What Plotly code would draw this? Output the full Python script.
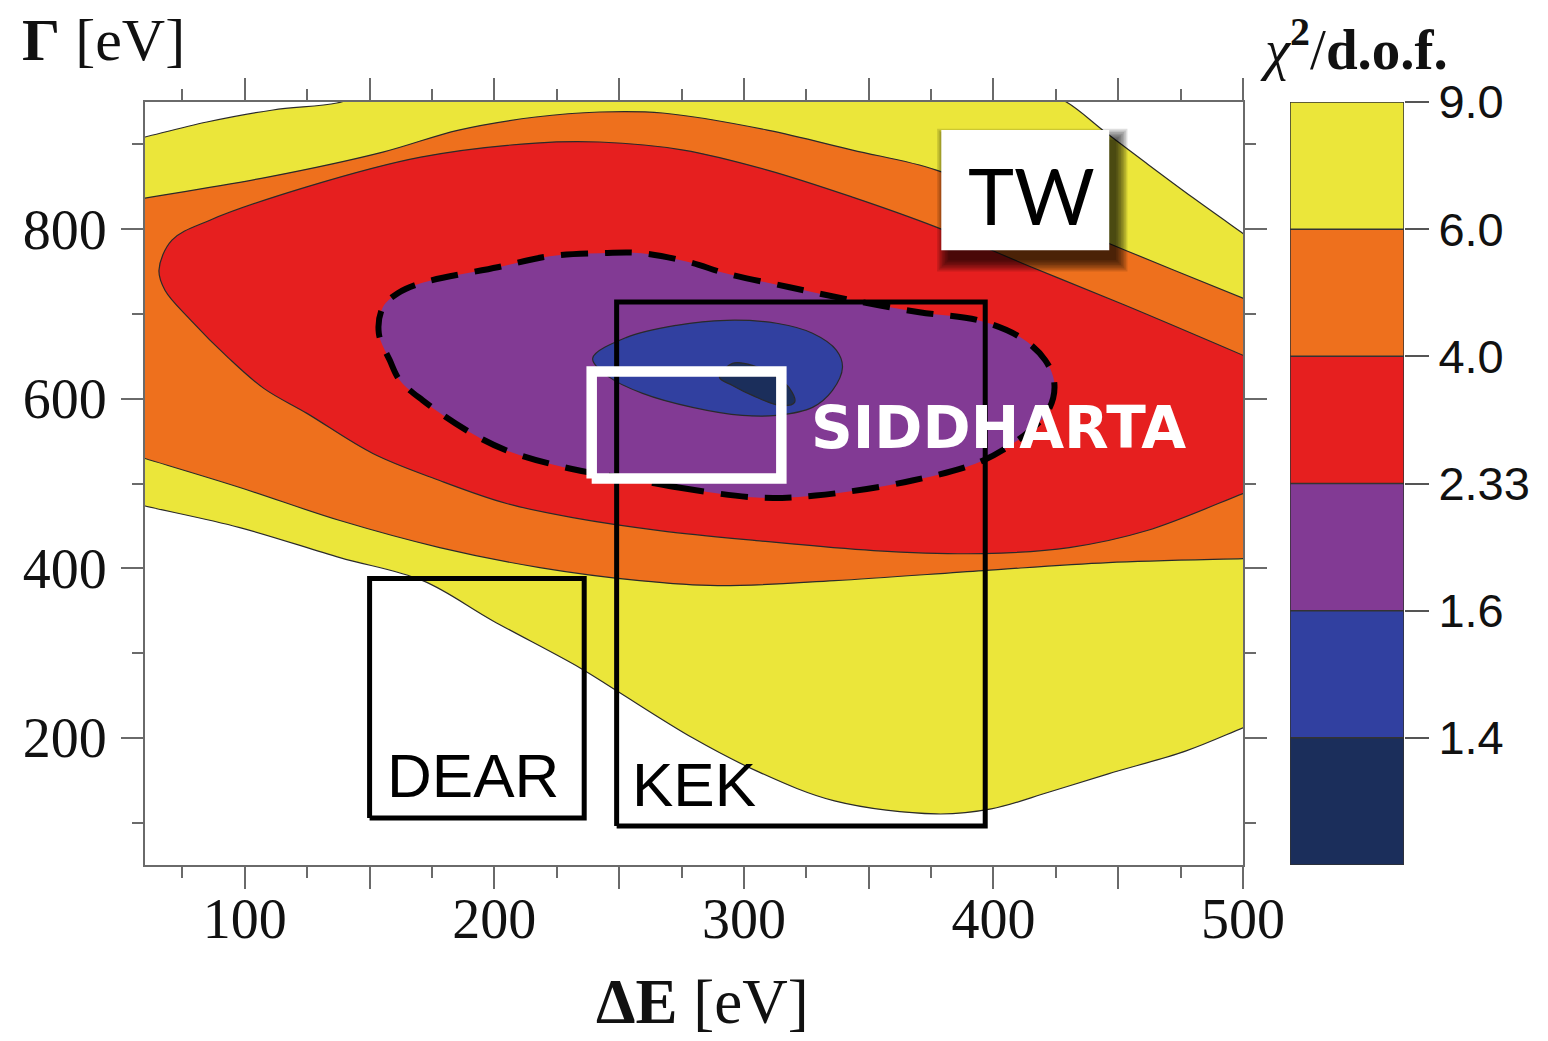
import plotly.graph_objects as go

# ---------------------------------------------------------------- data ----
# chi^2/d.o.f. band edges (upper edge of each band) and band colours, low -> high
chi2_levels = [1.4, 1.6, 2.33, 4.0, 6.0, 9.0]
band_colors = ["#1b2e5b", "#3140a0", "#823a94", "#e61f1f", "#ee701d", "#ebe63a"]

# Region outlines in (Delta E, Gamma) [eV]; vertices beyond the frame close a region off-axis
chi2_lt9_de = [50, 60, 84.8, 111.3, 136.9, 150, 290, 420, 429.2, 445, 461.2, 480, 500, 512, 516, 512,
               500, 477.2, 446.0, 422.4, 399.1, 377.1, 336.3, 305.0, 279.4, 249.0, 234.2, 199.3, 171.3,
               138.1, 98.0, 60, 50, 44, 44]
chi2_lt9_gamma = [901.6, 908.7, 926.4, 940.6, 948.8, 960, 968, 960, 950, 914, 878, 837, 795, 770, 500, 226,
                  211.8, 184.6, 157.5, 136.1, 116.1, 110.2, 125.6, 161.0, 200.0, 255.5, 282.7, 338.2,
                  385.4, 412.6, 448.0, 473.5, 480.8, 600, 880]

chi2_lt6_de = [50, 60, 109.2, 155.3, 185.7, 216.6, 242.2, 267.4, 309.4, 343.5, 377.1, 414.4, 452.8, 500,
               512, 516, 512, 500, 446.0, 395.9, 336.3, 289.4, 258.2, 218.2, 178.1, 138.1, 98.0, 60, 50, 44]
chi2_lt6_gamma = [831.6, 836.6, 861.4, 890.9, 916.9, 932.3, 938.2, 937.0, 916.9, 893.3, 869.7, 822.4, 775.2,
                  718.5, 704, 560, 412.4, 411.4, 406.7, 397.3, 385.4, 379.5, 385.4, 400.8, 424.4, 456.3,
                  495.3, 529.5, 538.5, 700]

chi2_lt4_de = [500, 452.8, 414.4, 377.1, 343.5, 309.4, 275.8, 242.2, 216.6, 170.5, 124.5, 86.0, 70.8, 65.6,
               68.0, 78.4, 93.2, 107.6, 124.9, 151.3, 178.1, 204.9, 231.4, 266.2, 305.0, 351.9, 395.9,
               430.4, 461.6, 500, 512, 516, 512]
chi2_lt4_gamma = [651.2, 710.2, 756.3, 802.4, 837.8, 869.7, 893.3, 902.8, 901.6, 885.0, 849.6, 810.6, 787.0,
                  751.6, 728.0, 692.5, 648.8, 612.2, 582.7, 535.4, 503.5, 476.4, 459.8, 444.5, 432.7,
                  420.9, 417.3, 424.4, 444.5, 488.2, 502, 570, 636]

chi2_lt233_de = [305.0, 273.8, 258.2, 230.2, 204.9, 188.9, 171.3, 162.1, 158.1, 153.7, 155.3, 161.3, 170.5,
                 201.3, 222.2, 242.2, 259.0, 278.2, 292.6, 318.3, 343.5, 370.3, 393.9, 410.8, 420.8,
                 424.4, 422.4, 414.7, 395.9, 367.5, 328.7, 305.0]
chi2_lt233_gamma = [483.5, 495.3, 503.5, 517.7, 539.0, 562.6, 598.0, 621.7, 645.3, 677.2, 707.9, 724.4,
                    736.2, 755.1, 768.1, 771.7, 771.7, 761.0, 748.0, 731.5, 716.1, 702.0, 692.5, 672.4,
                    645.3, 618.1, 588.6, 562.6, 527.2, 503.5, 485.8, 483.5]

chi2_lt16_de = [239.4, 253.0, 273.0, 293.0, 313.1, 327.5, 337.1, 339.5, 335.5, 327.5, 313.1, 299.4, 279.4,
                259.4, 246.2, 239.4]
chi2_lt16_gamma = [647.6, 672.4, 686.6, 692.5, 689.0, 677.2, 657.1, 637.0, 609.8, 589.8, 580.3, 580.3,
                   589.8, 606.3, 625.2, 647.6]

chi2_lt14_de = [290.2, 295.4, 303.4, 313.1, 318.3, 320.3, 314.3, 303.4, 295.4, 290.2]
chi2_lt14_gamma = [625.2, 641.7, 639.4, 625.2, 612.2, 595.7, 592.1, 603.9, 615.7, 625.2]

# Experimental ranges (Delta E, Gamma) [eV]
dear_de, dear_gamma = [150, 236], [105.5, 388]
kek_de, kek_gamma = [249, 396.7], [96, 714]
siddharta_de, siddharta_gamma = [239, 315], [506, 632]
tw_de, tw_gamma = [379.1, 446.4], [775.2, 916.9]

# ------------------------------------------------------------- layout ----
W, H = 1548, 1041
ML, MR, MT, MB = 145, 10, 102, 176
PW, PH = W - ML - MR, H - MT - MB


def paper_x(px):
    return (px - ML) / PW


def paper_y(py):
    return (H - MB - py) / PH


X_RANGE, Y_RANGE = [60, 500], [50, 950]
main_dom = [0, paper_x(1243)]
bar_dom = [paper_x(1290), paper_x(1404)]
ux = (X_RANGE[1] - X_RANGE[0]) / (1243 - ML)   # eV per pixel, horizontal
uy = (Y_RANGE[1] - Y_RANGE[0]) / PH            # eV per pixel, vertical

EDGE = "#2a2a2a"
FRAME = "#6a6a6a"
SERIF = "Liberation Serif, Times New Roman, serif"
SANS = "Liberation Sans, Arial, sans-serif"

fig = go.Figure()

regions = [
    (chi2_lt9_de, chi2_lt9_gamma, band_colors[5], dict(color=EDGE, width=1.2)),
    (chi2_lt6_de, chi2_lt6_gamma, band_colors[4], dict(color=EDGE, width=1.2)),
    (chi2_lt4_de, chi2_lt4_gamma, band_colors[3], dict(color=EDGE, width=1.2)),
    (chi2_lt233_de, chi2_lt233_gamma, band_colors[2], dict(color="#000000", width=6, dash="27px,17px")),
    (chi2_lt16_de, chi2_lt16_gamma, band_colors[1], dict(color=EDGE, width=1.2)),
    (chi2_lt14_de, chi2_lt14_gamma, band_colors[0], dict(color=EDGE, width=1.2)),
]
for de, gam, col, ln in regions:
    fig.add_trace(go.Scatter(
        x=de, y=gam, mode="lines", fill="toself", fillcolor=col,
        line=dict(shape="spline", smoothing=1.0, simplify=False, **ln),
        hoverinfo="skip", showlegend=False, xaxis="x", yaxis="y"))


def box(de, gam, color, width):
    return go.Scatter(
        x=[de[0], de[1], de[1], de[0], de[0]],
        y=[gam[0], gam[0], gam[1], gam[1], gam[0]],
        mode="lines", line=dict(color=color, width=width),
        hoverinfo="skip", showlegend=False, xaxis="x", yaxis="y")


fig.add_trace(box(dear_de, dear_gamma, "#000000", 5))
fig.add_trace(box(kek_de, kek_gamma, "#000000", 5))
fig.add_trace(box(siddharta_de, siddharta_gamma, "#ffffff", 10.5))

# colour key built from the same band list
n = len(band_colors)
cscale = []
for i, c in enumerate(band_colors):
    cscale += [[i / n, c], [(i + 1) / n, c]]
fig.add_trace(go.Heatmap(
    z=[[i] for i in range(n)], x=[0], y=list(range(n)),
    zmin=-0.5, zmax=n - 0.5, colorscale=cscale, showscale=False,
    hoverinfo="skip", xaxis="x2", yaxis="y2"))

shapes = []
# key outline and band separators
shapes.append(dict(type="rect", xref="x2", yref="y2", x0=-0.5, x1=0.5, y0=-0.5, y1=n - 0.5,
                   line=dict(color="#333333", width=1.5), layer="above"))
for i in range(n - 1):
    shapes.append(dict(type="line", xref="x2", yref="y2", x0=-0.5, x1=0.5, y0=i + 0.5, y1=i + 0.5,
                       line=dict(color="#333333", width=1.5), layer="above"))

# soft drop shadow behind the TW label box
for i in range(8):
    s = 1.6 * i
    dx, dy = 7, 10
    shapes.append(dict(
        type="rect", xref="x", yref="y", layer="above",
        x0=tw_de[0] + (dx - s) * ux, x1=tw_de[1] + (dx + s) * ux,
        y0=tw_gamma[0] - (dy + s) * uy, y1=tw_gamma[1] - (dy - s) * uy,
        fillcolor="rgba(0,0,0,0.13)", line=dict(width=0)))
shapes.append(dict(type="rect", xref="x", yref="y", layer="above",
                   x0=tw_de[0], x1=tw_de[1], y0=tw_gamma[0], y1=tw_gamma[1],
                   fillcolor="#ffffff", line=dict(width=0)))

annotations = [
    dict(text="TW", x=(tw_de[0] + tw_de[1]) / 2 + 2.5, y=(tw_gamma[0] + tw_gamma[1]) / 2 - 6,
         xref="x", yref="y", showarrow=False, xanchor="center", yanchor="middle",
         font=dict(family="Lato, Open Sans, sans-serif", size=78, color="#000000")),
    dict(text="<b>SIDDHARTA</b>", x=402.0, y=566, xref="x", yref="y", showarrow=False,
         xanchor="center", yanchor="middle",
         font=dict(family="DejaVu Sans, sans-serif", size=58, color="#ffffff")),
    dict(text="DEAR", x=156.0, y=155, xref="x", yref="y", showarrow=False,
         xanchor="left", yanchor="middle", font=dict(family=SANS, size=62, color="#000000")),
    dict(text="KEK", x=254.5, y=145, xref="x", yref="y", showarrow=False,
         xanchor="left", yanchor="middle", font=dict(family=SANS, size=62, color="#000000")),
    dict(text="<b>Γ</b> [eV]", x=paper_x(20), y=paper_y(40), xref="paper", yref="paper",
         showarrow=False, xanchor="left", yanchor="middle",
         font=dict(family=SERIF, size=60, color="#111111")),
    dict(text="<b>ΔE</b> [eV]", x=paper_x(702), y=paper_y(1002), xref="paper", yref="paper",
         showarrow=False, xanchor="center", yanchor="middle",
         font=dict(family=SERIF, size=63, color="#111111")),
    dict(text="<i>χ</i><sup><b>2</b></sup>/<b>d.o.f.</b>", x=paper_x(1258), y=paper_y(45),
         xref="paper", yref="paper", showarrow=False, xanchor="left", yanchor="middle",
         font=dict(family=SERIF, size=57, color="#111111")),
]

axis_common = dict(
    showline=True, linecolor=FRAME, linewidth=2, mirror="allticks",
    ticks="outside", ticklen=22, tickwidth=2, tickcolor=FRAME,
    showgrid=False, zeroline=False, fixedrange=True, automargin=False,
    tickfont=dict(family=SERIF, size=56, color="#111111"),
)

fig.update_layout(
    template="none",
    width=W, height=H, margin=dict(l=ML, r=MR, t=MT, b=MB, autoexpand=False),
    paper_bgcolor="#ffffff", plot_bgcolor="#ffffff",
    showlegend=False,
    xaxis=dict(domain=main_dom, range=X_RANGE, anchor="y", tickmode="linear",
               tick0=0, dtick=50, ticklabelstep=2, ticklabelstandoff=-18,
               minor=dict(tick0=0, dtick=25, ticks="outside", ticklen=11, tickwidth=2,
                          tickcolor=FRAME, showgrid=False),
               **axis_common),
    yaxis=dict(domain=[0, 1], range=Y_RANGE, anchor="x", tickmode="linear",
               tick0=0, dtick=200, ticklabelstandoff=3,
               minor=dict(tick0=0, dtick=100, ticks="outside", ticklen=11, tickwidth=2,
                          tickcolor=FRAME, showgrid=False),
               **axis_common),
    xaxis2=dict(domain=bar_dom, range=[-0.5, 0.5], anchor="y2", visible=False,
                fixedrange=True, automargin=False),
    yaxis2=dict(domain=[0, 1], range=[-0.5, n - 0.5], anchor="x2", side="right",
                tickmode="array", tickvals=[i + 0.5 for i in range(n)],
                ticktext=[str(v) for v in chi2_levels],
                ticks="outside", ticklen=24, tickwidth=2, tickcolor="#555555",
                showline=False, showgrid=False, zeroline=False, fixedrange=True,
                automargin=False, ticklabelstandoff=0,
                tickfont=dict(family=SANS, size=47, color="#111111")),
    shapes=shapes,
    annotations=annotations,
)

fig.write_html("out.html", config={"displayModeBar": False})
